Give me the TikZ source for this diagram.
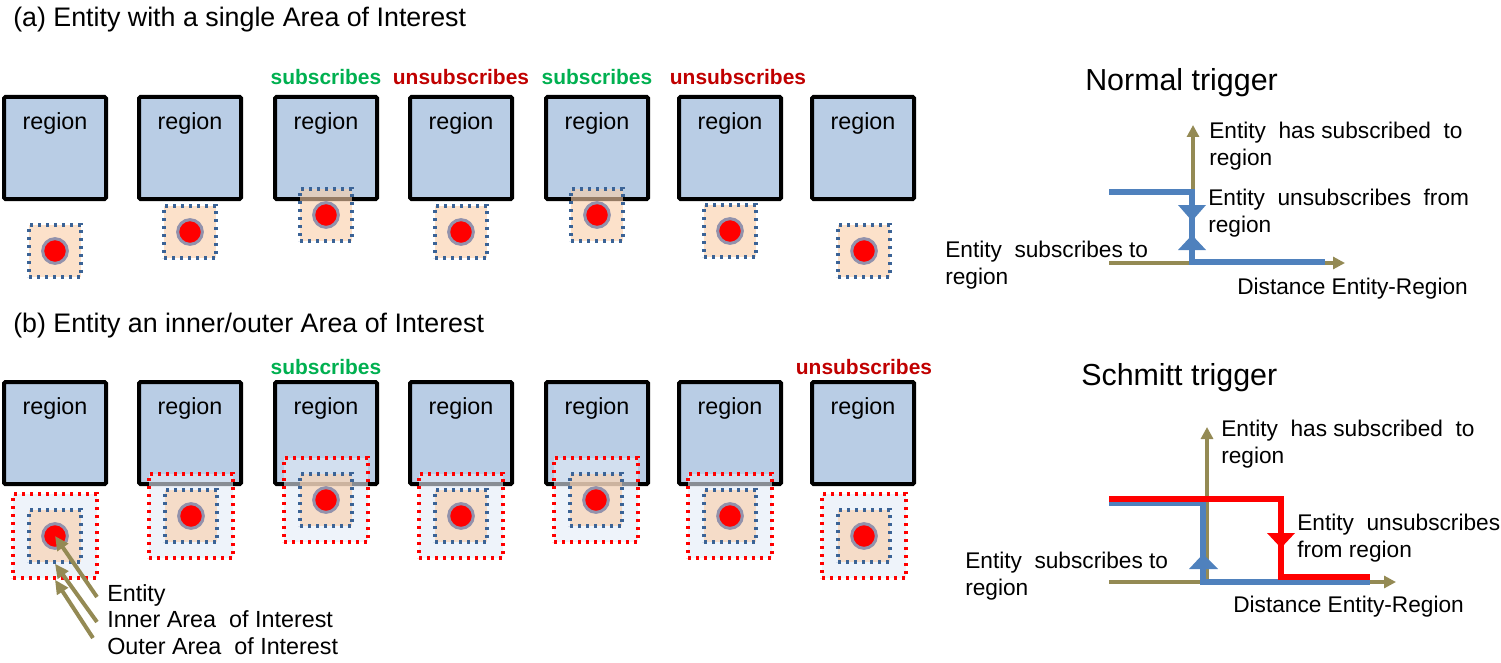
\documentclass[tikz,border=0pt]{standalone}
\usepackage{fontspec}
\setmainfont{Liberation Sans}
\usetikzlibrary{arrows.meta,calc}
\definecolor{regfill}{RGB}{185,205,229}
\definecolor{peach}{RGB}{250,205,167}
\definecolor{outerfill}{RGB}{227,235,247}
\definecolor{dotblue}{RGB}{59,99,150}
\definecolor{olive}{RGB}{148,138,84}
\definecolor{stepblue}{RGB}{79,129,189}
\definecolor{subgreen}{RGB}{0,176,80}
\definecolor{unsubred}{RGB}{192,0,0}
\definecolor{ringgray}{RGB}{146,146,172}
\tikzset{
  regionbox/.style={draw=black, fill=regfill, line width=3pt, rounded corners=1pt, minimum size=76.5pt, inner sep=0pt},
  regtext/.style={font=\fontsize{17.5}{20}\selectfont, inner sep=0pt},
  inneraoi/.style={draw=dotblue, fill=peach, fill opacity=0.6, draw opacity=1, line width=2.6pt, dash pattern=on 2.6pt off 3.4pt, minimum size=39pt, inner sep=0pt},
  outeraoi/.style={draw=red, fill=outerfill, fill opacity=0.6, draw opacity=1, line width=2.6pt, dash pattern=on 2.6pt off 3.4pt, minimum size=63pt, inner sep=0pt},
  entity/.style={circle, fill=red, draw=ringgray, line width=2.25pt, minimum size=18.5pt, inner sep=0pt},
  sublabel/.style={font=\fontsize{15.7}{18}\selectfont\bfseries, text=subgreen, inner sep=0pt},
  unsublabel/.style={font=\fontsize{15.7}{18}\selectfont\bfseries, text=unsubred, inner sep=0pt},
  titletext/.style={font=\fontsize{20.1}{23}\selectfont, anchor=west, inner sep=0pt},
  bigtitle/.style={font=\fontsize{22.8}{26}\selectfont, anchor=west, inner sep=0pt},
  smalltext/.style={font=\fontsize{17}{20.7}\selectfont, anchor=west, align=left, inner sep=0pt},
  pointtext/.style={font=\fontsize{17.5}{20.7}\selectfont, anchor=west, inner sep=0pt},
  axis/.style={draw=olive, line width=2.4pt, -{Triangle[length=9pt,width=9pt]}},
  bluestep/.style={draw=stepblue, line width=3.8pt},
  redstep/.style={draw=red, line width=3.8pt},
  pointer/.style={draw=olive, line width=3pt, -{Triangle[length=10.5pt,width=9.5pt]}},
}
\begin{document}
\begin{tikzpicture}[x=0.75pt, y=-0.75pt]
\useasboundingbox (0,0) rectangle (1501,663);

% ---------- titles ----------
\node[titletext] (ta) at (13,20) {(a) Entity with a single Area of Interest};
\node[titletext] (tb) at (13,326) {(b) Entity an inner/outer Area of Interest};

% ---------- row (a) ----------
\foreach \i/\x in {1/55,2/190,3/326,4/461,5/597,6/730,7/863}{
  \node[regionbox] (ra\i) at (\x,148) {};
  \node[regtext] (rta\i) at ($(ra\i.north)+(0,28)$) {region};
}
\foreach \i/\x/\y in {1/55/251,2/190/232,3/326/215,4/461/232,5/597/215,6/730/231,7/864/251}{
  \node[inneraoi] (ia\i) at (\x,\y) {};
  \node[entity] (ea\i) at (\x,\y) {};
}
\node[sublabel] (la3) at (326,77) {subscribes};
\node[unsublabel] (la4) at (461,77) {unsubscribes};
\node[sublabel] (la5) at (597,77) {subscribes};
\node[unsublabel] (la6) at (738,77) {unsubscribes};

% ---------- row (b) ----------
\foreach \i/\x in {1/55,2/190,3/326,4/461,5/597,6/730,7/863}{
  \node[regionbox] (rb\i) at (\x,433) {};
  \node[regtext] (rtb\i) at ($(rb\i.north)+(0,28)$) {region};
}
\foreach \i/\x/\y in {1/55/536,2/191/516,3/326/500,4/461/516,5/596/500,6/730/516,7/864/536}{
  \node[outeraoi] (ob\i) at (\x,\y) {};
  \node[inneraoi] (ib\i) at (\x,\y) {};
  \node[entity] (eb\i) at (\x,\y) {};
}
\node[sublabel] (lb3) at (326,367) {subscribes};
\node[unsublabel] (lb7) at (864,367) {unsubscribes};

% pointers
\node[pointtext] (pe) at (107,595) {Entity};
\node[pointtext] (pi) at (107,619) {Inner Area\ \ of Interest};
\node[pointtext] (po) at (107,646) {Outer Area\ \ of Interest};
\coordinate (pes) at (97,597);
\coordinate (pis) at (97,622);
\coordinate (pos) at (93,638);
\draw[pointer] (pes) -- (eb1.center);
\draw[pointer] (pis) -- (ib1.south);
\draw[pointer] (pos) -- (ob1.south);

% ---------- Normal trigger ----------
\node[bigtitle] (nt) at (1085,83) {Normal trigger};
\coordinate (nxs) at (1109,263);
\coordinate (nxe) at (1345,263);
\coordinate (nye) at (1193,125);
\coordinate (nys) at (1193,263);
\draw[axis] (nxs) -- (nxe);
\draw[axis] (nys) -- (nye);
\coordinate (nb1) at (1109,192);
\coordinate (nb2) at (1192,192);
\coordinate (nb3) at (1192,262);
\coordinate (nb4) at (1325,262);
\draw[bluestep] (nb1) -- (nb2) -- (nb3) -- (nb4);
\fill[stepblue] (1178,205) -- (1206,205) -- (1192,221) -- cycle;
\fill[stepblue] (1178,250) -- (1206,250) -- (1192,235) -- cycle;
\node[smalltext] (n1) at (1209,146) {Entity\ \ has subscribed\ \ to\\region};
\node[smalltext] (n2) at (1208,213) {Entity\ \ unsubscribes\ \ from\\region};
\node[smalltext] (n3) at (945,265) {Entity\ \ subscribes to\\region};
\node[smalltext] (n4) at (1237,289) {Distance Entity-Region};

% ---------- Schmitt trigger ----------
\node[bigtitle] (st) at (1081,378) {Schmitt trigger};
\coordinate (sxs) at (1109,582);
\coordinate (sxe) at (1396,582);
\coordinate (sys) at (1207,582);
\coordinate (sye) at (1207,427);
\draw[axis] (sxs) -- (sxe);
\draw[axis] (sys) -- (sye);
\coordinate (sb1) at (1109,503);
\coordinate (sb2) at (1203,503);
\coordinate (sb3) at (1203,582);
\coordinate (sb4) at (1370,582);
\draw[bluestep] (sb1) -- (sb2) -- (sb3) -- (sb4);
\coordinate (sr1) at (1109,499);
\coordinate (sr2) at (1281,499);
\coordinate (sr3) at (1281,577);
\coordinate (sr4) at (1370,577);
\draw[redstep] (sr1) -- (sr2) -- (sr3) -- (sr4);
\fill[stepblue] (1189,569) -- (1218,569) -- (1203,554) -- cycle;
\fill[red] (1267,533) -- (1295,533) -- (1281,548) -- cycle;
\node[smalltext] (s1) at (1221,444) {Entity\ \ has subscribed\ \ to\\region};
\node[smalltext] (s2) at (1297,538) {Entity\ \ unsubscribes\\from region};
\node[smalltext] (s3) at (965,576) {Entity\ \ subscribes to\\region};
\node[smalltext] (s4) at (1233,607) {Distance Entity-Region};
\end{tikzpicture}
\end{document}
